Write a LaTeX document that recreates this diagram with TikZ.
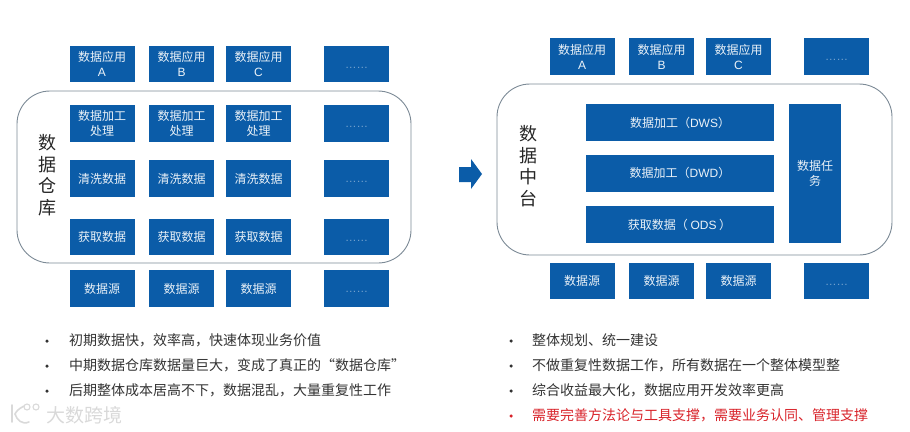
\documentclass[tikz,border=0pt]{standalone}
\usepackage{fontspec}
\setmainfont{Liberation Sans}
\newfontfamily\cjk{Noto Sans CJK SC}
\definecolor{boxblue}{HTML}{0B5CA8}
\definecolor{framegray}{HTML}{7C8A96}
\definecolor{bodytext}{HTML}{333333}
\definecolor{alertred}{HTML}{D8232A}
\tikzset{
  bluebox/.style={fill=boxblue,draw=none,text=white!92!boxblue,align=center,inner sep=0pt,
    minimum width=65pt,minimum height=36.5pt,font=\cjk\fontsize{12}{15}\selectfont},
  dotstext/.style={inner sep=0pt,text=white!45!boxblue,font=\fontsize{11.5}{12}\selectfont},
  widebox/.style={bluebox,minimum width=188pt,minimum height=37pt},
  frame/.style={draw=framegray,line width=0.9pt,rounded corners=33pt,fill=white,inner sep=0pt},
  biglabel/.style={align=center,inner sep=0pt,text=black!85,font=\cjk\fontsize{18}{21.5}\selectfont},
  bullettext/.style={anchor=west,inner sep=0pt,text=bodytext,font=\cjk\fontsize{14}{16}\selectfont},
  bulletdot/.style={circle,fill=bodytext,inner sep=0pt,minimum size=3.5pt},
  markshape/.style={gray!30,line width=1.6pt,line cap=round},
}
\newcommand{\lat}[1]{{\fontspec{Liberation Sans}#1}}
\begin{document}
\begin{tikzpicture}[x=1pt,y=-1pt]
\useasboundingbox (0,0) rectangle (910,431);
% frames
\node[frame,minimum width=394pt,minimum height=172pt] (wh) at (214,177) {};
\node[frame,minimum width=395pt,minimum height=171pt] (mid) at (694.5,169.5) {};
% left grid
\foreach \c/\x/\l in {1/102/A,2/181.5/B,3/258.5/C}{
  \node[bluebox] (la\c) at (\x,64) {数据应用\\\lat{\l}};
  \node[bluebox] (lb\c) at (\x,123.5) {数据加工\\处理};
  \node[bluebox] (lc\c) at (\x,178.5) {清洗数据};
  \node[bluebox] (ld\c) at (\x,237) {获取数据};
  \node[bluebox] (le\c) at (\x,288.5) {数据源};
}
\foreach \r/\y in {a/64,b/123.5,c/178.5,d/237,e/288.5}{
  \node[bluebox] (l\r4) at (356.5,\y) {};
  \node[dotstext] (l\r4t) at (356.5,\y+3.5) {……};
}
\node[biglabel] (wlabel) at (47,175) {数\\据\\仓\\库};
% arrow
\fill[boxblue] (459,167) -- (471,167) -- (471,159) -- (482,174) -- (471,189) -- (471,182) -- (459,182) -- cycle;
% right grid
\foreach \c/\x/\l in {1/582/A,2/661.5/B,3/738.5/C}{
  \node[bluebox] (ra\c) at (\x,56.5) {数据应用\\\lat{\l}};
  \node[bluebox] (re\c) at (\x,281) {数据源};
}
\node[bluebox] (ra4) at (836.5,56.5) {};
\node[dotstext] (ra4t) at (836.5,60) {……};
\node[bluebox] (re4) at (836.5,281) {};
\node[dotstext] (re4t) at (836.5,284.5) {……};
\node[widebox] (dws) at (680,122.5) {数据加工（\lat{DWS}）};
\node[widebox] (dwd) at (680,173) {数据加工（\lat{DWD}）};
\node[widebox] (ods) at (679.5,224.5) {获取数据（ \lat{ODS} ）};
\node[bluebox,minimum width=52.5pt,minimum height=139pt] (task) at (815,173.5) {数据任\\务};
\node[biglabel] (mlabel) at (528,166) {数\\据\\中\\台};
% left bullets
\foreach \n/\y/\t in {1/340/初期数据快，效率高，快速体现业务价值,
                      2/365/中期数据仓库数据量巨大，变成了真正的“数据仓库”,
                      3/390/后期整体成本居高不下，数据混乱，大量重复性工作}{
  \node[bulletdot] (lbd\n) at (47,\y+1) {};
  \node[bullettext] (lbt\n) at (69,\y) {\t};
}
% right bullets
\foreach \n/\y/\t in {1/340/整体规划、统一建设,
                      2/365/不做重复性数据工作，所有数据在一个整体模型整,
                      3/390/综合收益最大化，数据应用开发效率更高}{
  \node[bulletdot] (rbd\n) at (511,\y+1) {};
  \node[bullettext] (rbt\n) at (532,\y) {\t};
}
\node[bulletdot,fill=alertred] (rbd4) at (511,416) {};
\node[bullettext,text=alertred] (rbt4) at (532,415) {需要完善方法论与工具支撑，需要业务认同、管理支撑};
% watermark
\node[anchor=west,inner sep=0pt,text=gray!30,font=\cjk\fontsize{19}{20}\selectfont] (wm) at (46,415) {大数跨境};
\draw[markshape] (12,405) -- (12,422);
\draw[markshape] (24,406) .. controls (18,409) and (16,412) .. (15,414) .. controls (17,420) and (22,425) .. (29,422);
\draw[markshape,line width=1.1pt] (27,407) circle (3pt);
\draw[markshape,line width=1.1pt] (36,407) circle (3pt);
\end{tikzpicture}
\end{document}
